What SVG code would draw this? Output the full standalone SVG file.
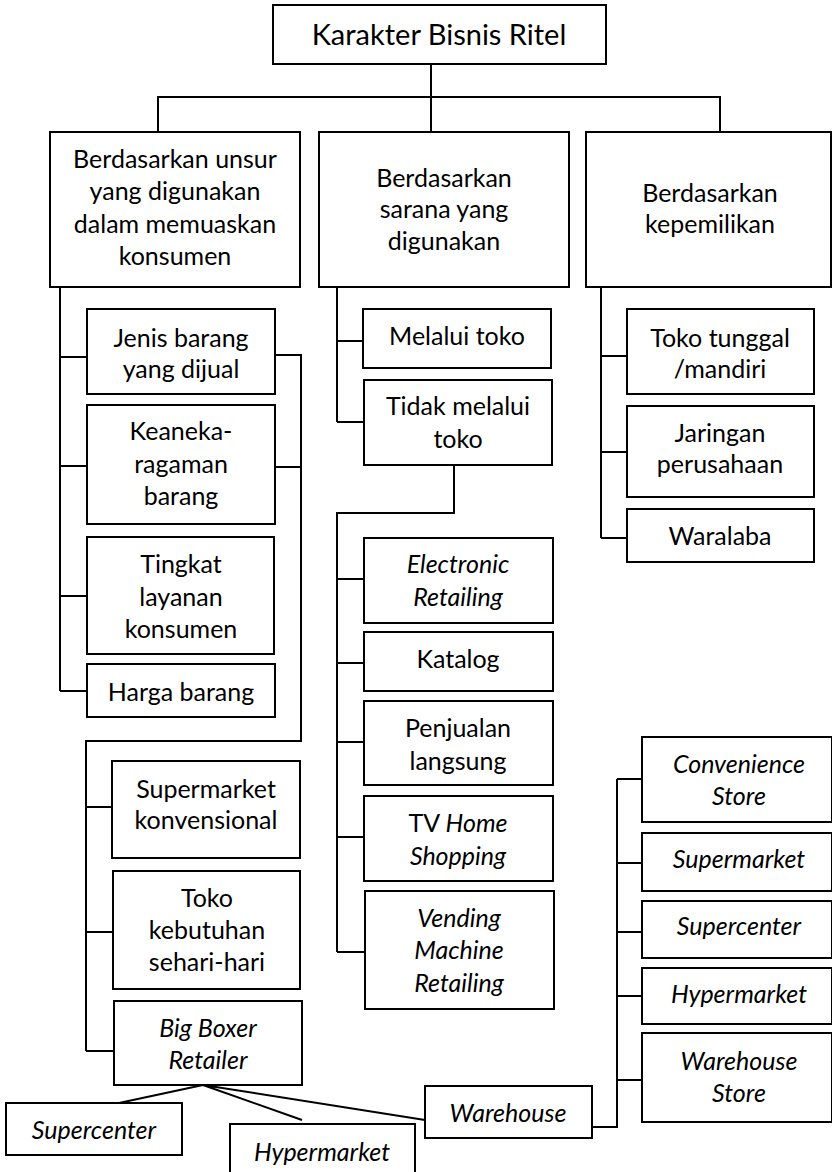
<svg xmlns="http://www.w3.org/2000/svg" width="832" height="1172" viewBox="0 0 832 1172">
  <style>
    .box { fill: #ffffff; stroke: #000000; stroke-width: 2; }
    .wire { fill: none; stroke: #000000; stroke-width: 2; }
    text { font-family: Lato, "Open Sans", "Liberation Sans", sans-serif; font-size: 25px; fill: #000000; text-anchor: middle; }
    .title { font-size: 29px; }
    .it { font-style: italic; }
  </style>
  <rect width="832" height="1172" fill="#ffffff"/>

  <!-- connectors -->
  <g id="connectors">
    <!-- root to the three categories -->
    <path class="wire" d="M431,64 V132 M158,132 V97 H720 V132"/>
    <!-- category A children -->
    <path class="wire" d="M60,287 V691 M60,357 H87 M60,466 H87 M60,596 H87 M60,691 H87"/>
    <!-- bracket from Jenis / Keaneka to store types -->
    <path class="wire" d="M275,355 H301 V741 H86 V1051 M275,467 H301 M86,807 H112 M86,932 H113 M86,1051 H114"/>
    <!-- big boxer fan-out -->
    <path class="wire" d="M203,1085 L119,1103 M203,1085 L302,1120 M203,1085 L425,1120"/>
    <!-- warehouse children -->
    <path class="wire" d="M592,1127 H617 V779 M617,779 H642 M617,863 H642 M617,932 H642 M617,996 H642 M617,1080 H642"/>
    <!-- category B children -->
    <path class="wire" d="M337,287 V422 M337,341 H363 M337,422 H364"/>
    <!-- non-store branch -->
    <path class="wire" d="M454,465 V513 H337 V952 M337,579 H364 M337,663 H364 M337,742 H364 M337,837 H364 M337,952 H365"/>
    <!-- category C children -->
    <path class="wire" d="M601,287 V538 M601,356 H627 M601,452 H627 M601,538 H627"/>
  </g>

  <g id="root">
    <rect class="box" x="273" y="5" width="333" height="59"/>
    <text class="title" x="439" y="45">Karakter Bisnis Ritel</text>
  </g>

  <g id="unsur">
    <rect class="box" x="50" y="132" width="250" height="155"/>
    <text x="175" y="168">Berdasarkan unsur</text>
    <text x="175" y="200">yang digunakan</text>
    <text x="175" y="233">dalam memuaskan</text>
    <text x="175" y="265">konsumen</text>
  </g>
  <g id="sarana">
    <rect class="box" x="319" y="132" width="250" height="155"/>
    <text x="444" y="187">Berdasarkan</text>
    <text x="444" y="218">sarana yang</text>
    <text x="444" y="250">digunakan</text>
  </g>
  <g id="kepemilikan">
    <rect class="box" x="586" y="132" width="245" height="155"/>
    <text x="710" y="202">Berdasarkan</text>
    <text x="710" y="233">kepemilikan</text>
  </g>

  <g id="jenis">
    <rect class="box" x="87" y="309" width="188" height="85"/>
    <text x="181" y="347">Jenis barang</text>
    <text x="181" y="378">yang dijual</text>
  </g>
  <g id="keaneka">
    <rect class="box" x="87" y="405" width="188" height="119"/>
    <text x="181" y="440">Keaneka-</text>
    <text x="181" y="473">ragaman</text>
    <text x="181" y="505">barang</text>
  </g>
  <g id="tingkat">
    <rect class="box" x="87" y="537" width="187" height="117"/>
    <text x="181" y="573">Tingkat</text>
    <text x="181" y="606">layanan</text>
    <text x="181" y="638">konsumen</text>
  </g>
  <g id="harga">
    <rect class="box" x="87" y="664" width="188" height="53"/>
    <text x="181" y="701">Harga barang</text>
  </g>

  <g id="supermarket-konvensional">
    <rect class="box" x="112" y="761" width="188" height="97"/>
    <text x="206" y="798">Supermarket</text>
    <text x="206" y="829">konvensional</text>
  </g>
  <g id="toko-kebutuhan">
    <rect class="box" x="113" y="871" width="187" height="118"/>
    <text x="207" y="907">Toko</text>
    <text x="207" y="939">kebutuhan</text>
    <text x="207" y="971">sehari-hari</text>
  </g>
  <g id="big-boxer">
    <rect class="box" x="114" y="1001" width="188" height="84"/>
    <text class="it" x="208" y="1037">Big Boxer</text>
    <text class="it" x="208" y="1069">Retailer</text>
  </g>
  <g id="bb-supercenter">
    <rect class="box" x="6" y="1103" width="176" height="52"/>
    <text class="it" x="94" y="1139">Supercenter</text>
  </g>
  <g id="bb-hypermarket">
    <rect class="box" x="230" y="1124" width="185" height="50"/>
    <text class="it" x="322" y="1161">Hypermarket</text>
  </g>
  <g id="warehouse">
    <rect class="box" x="425" y="1086" width="167" height="52"/>
    <text class="it" x="508" y="1122">Warehouse</text>
  </g>

  <g id="convenience-store">
    <rect class="box" x="642" y="737" width="190" height="85"/>
    <text class="it" x="739" y="773">Convenience</text>
    <text class="it" x="739" y="805">Store</text>
  </g>
  <g id="w-supermarket">
    <rect class="box" x="642" y="833" width="190" height="58"/>
    <text class="it" x="739" y="868">Supermarket</text>
  </g>
  <g id="w-supercenter">
    <rect class="box" x="642" y="901" width="190" height="57"/>
    <text class="it" x="739" y="935">Supercenter</text>
  </g>
  <g id="w-hypermarket">
    <rect class="box" x="642" y="968" width="190" height="56"/>
    <text class="it" x="739" y="1003">Hypermarket</text>
  </g>
  <g id="warehouse-store">
    <rect class="box" x="642" y="1033" width="190" height="89"/>
    <text class="it" x="739" y="1070">Warehouse</text>
    <text class="it" x="739" y="1102">Store</text>
  </g>

  <g id="melalui-toko">
    <rect class="box" x="363" y="309" width="188" height="59"/>
    <text x="457" y="345">Melalui toko</text>
  </g>
  <g id="tidak-melalui-toko">
    <rect class="box" x="364" y="380" width="188" height="85"/>
    <text x="458" y="415">Tidak melalui</text>
    <text x="458" y="448">toko</text>
  </g>
  <g id="electronic-retailing">
    <rect class="box" x="364" y="538" width="189" height="85"/>
    <text class="it" x="458" y="573">Electronic</text>
    <text class="it" x="458" y="606">Retailing</text>
  </g>
  <g id="katalog">
    <rect class="box" x="364" y="632" width="189" height="59"/>
    <text x="458" y="668">Katalog</text>
  </g>
  <g id="penjualan-langsung">
    <rect class="box" x="364" y="701" width="189" height="84"/>
    <text x="458" y="737">Penjualan</text>
    <text x="458" y="770">langsung</text>
  </g>
  <g id="tv-home-shopping">
    <rect class="box" x="364" y="796" width="189" height="85"/>
    <text x="458" y="832">TV <tspan class="it">Home</tspan></text>
    <text class="it" x="458" y="865">Shopping</text>
  </g>
  <g id="vending-machine">
    <rect class="box" x="365" y="891" width="189" height="118"/>
    <text class="it" x="459" y="927">Vending</text>
    <text class="it" x="459" y="959">Machine</text>
    <text class="it" x="459" y="992">Retailing</text>
  </g>

  <g id="toko-tunggal">
    <rect class="box" x="627" y="309" width="187" height="85"/>
    <text x="720" y="347">Toko tunggal</text>
    <text x="720" y="378">/mandiri</text>
  </g>
  <g id="jaringan">
    <rect class="box" x="627" y="406" width="187" height="91"/>
    <text x="720" y="442">Jaringan</text>
    <text x="720" y="473">perusahaan</text>
  </g>
  <g id="waralaba">
    <rect class="box" x="627" y="509" width="187" height="53"/>
    <text x="720" y="545">Waralaba</text>
  </g>
</svg>
